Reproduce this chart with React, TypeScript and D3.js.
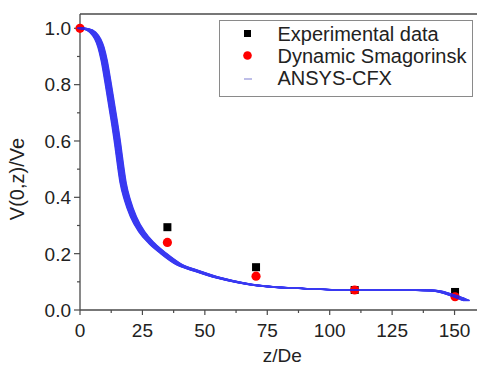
import React from "react";
import * as d3 from "d3";

const W = 477;
const H = 368;

// ANSYS-CFX curve
const cfxZ = [0, 2.4, 5.1, 7.1, 8.4, 9.7, 11.1, 12.4, 13.7, 15.1, 16.3, 17.3, 19.0, 21.4, 24.7, 28.7, 33.4, 39.4, 46.7, 56.1, 64.1, 72.1, 88.1, 108.1, 128.2, 141.5, 146.8, 150.9, 154.9];
const cfxV = [1.0, 0.998, 0.986, 0.962, 0.933, 0.885, 0.814, 0.743, 0.672, 0.589, 0.509, 0.45, 0.39, 0.331, 0.278, 0.237, 0.201, 0.163, 0.139, 0.113, 0.097, 0.086, 0.077, 0.071, 0.071, 0.069, 0.059, 0.047, 0.033];

// Experimental data
const expZ = [35, 70.5, 110, 150.2];
const expV = [0.294, 0.152, 0.071, 0.064];

// Dynamic Smagorinsky
const dsZ = [0, 35, 70.5, 110, 150.2];
const dsV = [1.0, 0.24, 0.12, 0.071, 0.047];

const xTicks = [0, 25, 50, 75, 100, 125, 150];
const xMinor = [12.5, 37.5, 62.5, 87.5, 112.5, 137.5, 162.5];
const yTicks = [0, 0.2, 0.4, 0.6, 0.8, 1.0];
const yMinor = [0.1, 0.3, 0.5, 0.7, 0.9];

const legendLabels = ["Experimental data", "Dynamic Smagorinsk", "ANSYS-CFX"];

export default function App() {
  const left = 80, top = 14, bottom = 310;
  const x = d3.scaleLinear().domain([0, 162]).range([left, left + 162 * 2.497]);
  const y = d3.scaleLinear().domain([0, 1.0508]).range([bottom, top]);

  const cfx = cfxZ.map((z, i) => [z, cfxV[i]] as [number, number]);
  const line = d3.line<[number, number]>().x(d => x(d[0])).y(d => y(d[1])).curve(d3.curveMonotoneX);
  const path = line(cfx) || "";
  const offsets = d3.range(-3, 3.01, 0.5);

  const axisColor = "#4a4a4a";
  const font = "'Liberation Sans', Arial, sans-serif";

  return (
    <div style={{ position: "absolute", left: 0, top: 0 }}>
      <svg width={W} height={H} style={{ display: "block", background: "#fff" }} fontFamily={font}>
        {/* frame */}
        <line x1={left} x2={W} y1={top} y2={top} stroke={axisColor} strokeWidth={1.3} />
        <line x1={left} x2={left} y1={top} y2={bottom} stroke={axisColor} strokeWidth={1.3} />
        <line x1={left} x2={W} y1={bottom} y2={bottom} stroke={axisColor} strokeWidth={1.3} />

        {/* y ticks */}
        {yTicks.map(t => (
          <g key={"y" + t}>
            <line x1={left - 6} x2={left} y1={y(t)} y2={y(t)} stroke={axisColor} strokeWidth={1.2} />
            <text x={left - 9} y={y(t)} dy="0.36em" textAnchor="end" fontSize={19} fill="#222">{t.toFixed(1)}</text>
          </g>
        ))}
        {yMinor.map(t => (
          <line key={"ym" + t} x1={left - 3} x2={left} y1={y(t)} y2={y(t)} stroke={axisColor} strokeWidth={1.2} />
        ))}

        {/* x ticks */}
        {xTicks.map(t => (
          <g key={"x" + t}>
            <line x1={x(t)} x2={x(t)} y1={bottom} y2={bottom + 5} stroke={axisColor} strokeWidth={1.2} />
            <text x={x(t)} y={336.5} textAnchor="middle" fontSize={19} fill="#222">{t}</text>
          </g>
        ))}
        {xMinor.map(t => (
          <line key={"xm" + t} x1={x(t)} x2={x(t)} y1={bottom} y2={bottom + 3} stroke={axisColor} strokeWidth={1.2} />
        ))}

        {/* axis titles */}
        <text x={x(81)} y={362} textAnchor="middle" fontSize={19} fill="#222">z/De</text>
        <text transform={`translate(24,179) rotate(-90)`} textAnchor="middle" fontSize={20} fill="#222">V(0,z)/Ve</text>

        {/* experimental squares */}
        {expZ.map((z, i) => (
          <rect key={"e" + i} x={x(z) - 4} y={y(expV[i]) - 4} width={8} height={8} fill="#000" />
        ))}
        {/* dynamic smagorinsky circles */}
        {dsZ.map((z, i) => (
          <circle key={"d" + i} cx={x(z)} cy={y(dsV[i])} r={4.6} fill="#f00" />
        ))}

        {/* ANSYS-CFX dash markers emulated by horizontally offset strokes */}
        <g opacity={0.88}>
          {offsets.map(o => (
            <path key={"o" + o} d={path} transform={`translate(${o},0)`} fill="none" stroke="#1f1ff0" strokeWidth={1.4} />
          ))}
        </g>

        {/* legend */}
        <rect x={219.5} y={20.5} width={253} height={76} fill="#fff" stroke="#8a8a8a" strokeWidth={1} />
        <rect x={244} y={30} width={7} height={7} fill="#000" />
        <circle cx={247.5} cy={55.5} r={4.3} fill="#f00" />
        <line x1={244} x2={252} y1={79} y2={79} stroke="#a8a8e0" strokeWidth={1.5} />
        {legendLabels.map((l, i) => (
          <text key={l} x={277.5} y={40.5 + i * 22.2} fontSize={20} fill="#222">{l}</text>
        ))}
      </svg>
    </div>
  );
}
